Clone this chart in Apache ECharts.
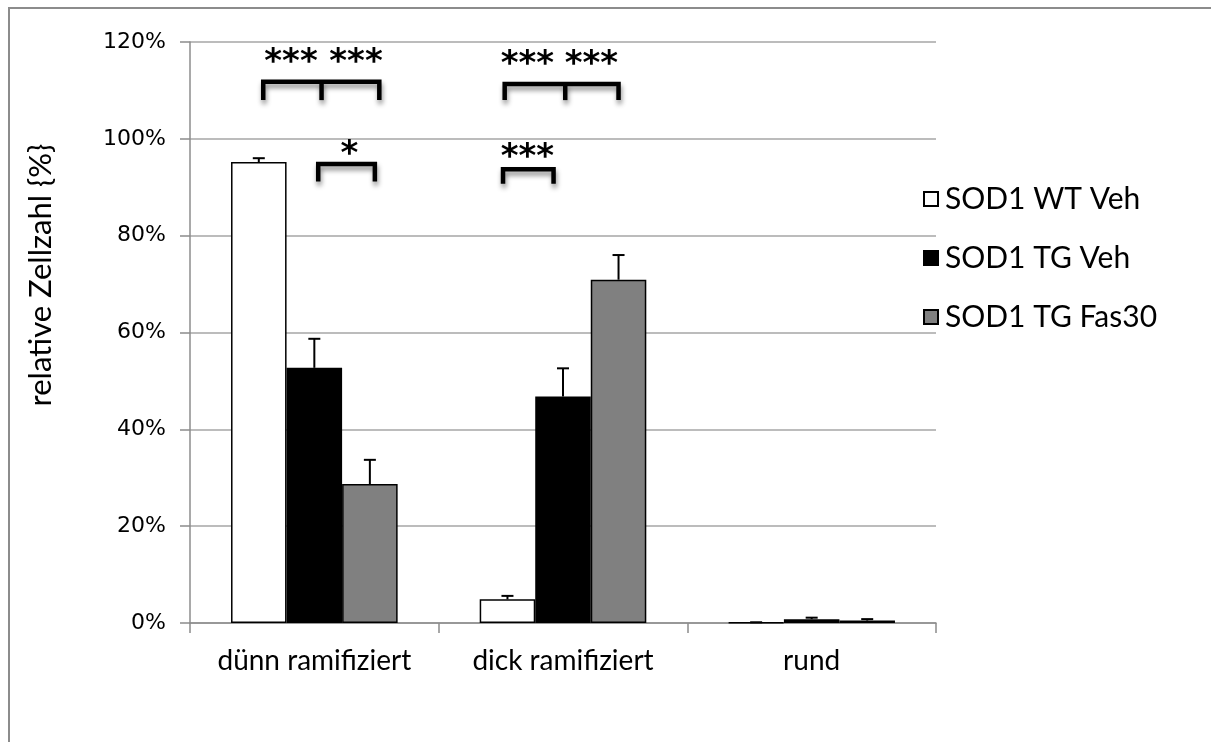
<!DOCTYPE html>
<html>
<head>
<meta charset="utf-8">
<script src="https://cdn.jsdelivr.net/npm/echarts@6/dist/echarts.min.js"></script>
<style>html,body{margin:0;padding:0;background:#fff;}#c{width:1211px;height:742px;}</style>
</head>
<body>
<div id="c"></div>
<script>
const categories = ['dünn ramifiziert', 'dick ramifiziert', 'rund'];
const seriesNames = ['SOD1 WT Veh', 'SOD1 TG Veh', 'SOD1 TG Fas30'];
const wtVeh = [95.2, 4.9, 0.1];
const tgVeh = [52.7, 46.8, 0.8];
const tgFas30 = [28.7, 70.9, 0.5];
const wtVehErr = [0.8, 0.7, 0.05];
const tgVehErr = [6.0, 5.8, 0.3];
const tgFas30Err = [5.0, 5.1, 0.3];
const yTicks = [0, 20, 40, 60, 80, 100, 120];
// brackets: [category index, top value, leg value, left bar offset, middle bar offset (or null), right bar offset]
const brackets = [
  [0, 111.8, 108.0, -0.92, 0.13, 1.17],
  [0, 94.8, 91.2, 0.07, null, 1.09],
  [1, 111.3, 108.0, -1.05, 0.04, 1.0],
  [1, 93.7, 90.7, -1.08, null, -0.17]
];
// star labels: [category index, bar offset, value, text]
const stars = [
  [0, -0.42, 115.6, '***'],
  [0, 0.75, 115.6, '***'],
  [0, 0.63, 96.6, '*'],
  [1, -0.64, 115.2, '***'],
  [1, 0.51, 115.2, '***'],
  [1, -0.64, 96.0, '***']
];

const colors = ['#ffffff', '#000000', '#808080'];
const values = [wtVeh, tgVeh, tgFas30];
const errs = [wtVehErr, tgVehErr, tgFas30Err];
const GAP = 0.33;
const FONT = 'Lato';

function barWidthOf(api) {
  const catW = api.size([1, 0])[0];
  return catW * (1 - GAP) / 3;
}

const series = [];
values.forEach((v, i) => {
  series.push({
    name: seriesNames[i],
    type: 'bar',
    data: v,
    barGap: '0%',
    barCategoryGap: (GAP * 100) + '%',
    itemStyle: { color: colors[i], borderColor: '#000', borderWidth: 1.5 },
    emphasis: { disabled: true },
    z: 2
  });
});
values.forEach((v, i) => {
  series.push({
    type: 'custom',
    name: 'err' + i,
    data: v.map((val, j) => [j, val, val + errs[i][j]]),
    z: 3,
    silent: true,
    renderItem: function (params, api) {
      const bw = barWidthOf(api);
      const p0 = api.coord([api.value(0), api.value(1)]);
      const p1 = api.coord([api.value(0), api.value(2)]);
      const x = p0[0] + (i - 1) * bw;
      const cap = 6;
      return {
        type: 'group',
        children: [
          { type: 'line', shape: { x1: x, y1: p0[1], x2: x, y2: p1[1] }, style: { stroke: '#000', lineWidth: 2 } },
          { type: 'line', shape: { x1: x - cap, y1: p1[1], x2: x + cap, y2: p1[1] }, style: { stroke: '#000', lineWidth: 2 } }
        ]
      };
    }
  });
});
series.push({
  type: 'custom',
  name: 'brackets',
  data: brackets.map(b => [b[0], b[1], b[2], b[3], b[4] === null ? NaN : b[4], b[5]]),
  z: 4,
  silent: true,
  renderItem: function (params, api) {
    const bw = barWidthOf(api);
    const top = api.coord([api.value(0), api.value(1)]);
    const leg = api.coord([api.value(0), api.value(2)]);
    const cx = top[0];
    const xl = cx + api.value(3) * bw;
    const xr = cx + api.value(5) * bw;
    const mid = api.value(4);
    const st = { stroke: '#000', lineWidth: 4.5, fill: null, shadowBlur: 5, shadowColor: 'rgba(0,0,0,0.45)', shadowOffsetX: 1, shadowOffsetY: 4 };
    const children = [
      { type: 'polyline', shape: { points: [[xl, leg[1]], [xl, top[1]], [xr, top[1]], [xr, leg[1]]] }, style: st }
    ];
    if (!isNaN(mid)) {
      const xm = cx + mid * bw;
      children.push({ type: 'line', shape: { x1: xm, y1: top[1], x2: xm, y2: leg[1] }, style: st });
    }
    return { type: 'group', children: children };
  }
});
series.push({
  type: 'custom',
  name: 'stars',
  data: stars.map(s => [s[0], s[1], s[2], s[3]]),
  z: 5,
  silent: true,
  renderItem: function (params, api) {
    const bw = barWidthOf(api);
    const p = api.coord([api.value(0), api.value(2)]);
    return {
      type: 'text',
      style: {
        x: p[0] + api.value(1) * bw,
        y: p[1],
        text: stars[params.dataIndex][3],
        fill: '#000',
        font: 'bold 34px "DejaVu Sans"',
        align: 'center',
        verticalAlign: 'middle'
      }
    };
  }
});

const chart = echarts.init(document.getElementById('c'), null, { renderer: 'canvas' });
chart.setOption({
  animation: false,
  backgroundColor: '#fff',
  grid: { left: 190, right: 275, top: 42, bottom: 119 },
  legend: {
    data: seriesNames,
    orient: 'vertical',
    left: 918,
    top: 179,
    itemWidth: 14,
    itemHeight: 14,
    itemGap: 29,
    icon: 'rect',
    selectedMode: false,
    textStyle: { fontFamily: FONT, fontSize: 30, color: '#000', padding: [0, 0, 0, 2] }
  },
  xAxis: {
    type: 'category',
    data: categories,
    axisLine: { lineStyle: { color: '#8c8c8c', width: 1.5 } },
    axisTick: { show: true, length: 10, interval: 0, lineStyle: { color: '#8c8c8c', width: 1.5 } },
    axisLabel: { fontFamily: FONT, fontSize: 28, color: '#000', margin: 24, interval: 0, hideOverlap: false },
    splitLine: { show: false }
  },
  yAxis: {
    type: 'value',
    min: 0,
    max: 120,
    interval: 20,
    axisLine: { show: true, lineStyle: { color: '#8c8c8c', width: 1.5 } },
    axisTick: { show: true, length: 10, lineStyle: { color: '#8c8c8c', width: 1.5 } },
    axisLabel: {
      fontFamily: '"DejaVu Sans"', fontSize: 22, color: '#000', margin: 24,
      formatter: function (v) { return yTicks.indexOf(v) >= 0 ? v + '%' : ''; }
    },
    splitLine: { lineStyle: { color: '#a6a6a6', width: 1.5 } }
  },
  graphic: [
    { type: 'rect', shape: { x: 9, y: 8, width: 1400, height: 900 }, style: { fill: null, stroke: '#8c8c8c', lineWidth: 2 }, silent: true, z: 0 },
    { type: 'text', x: 41, y: 275, rotation: Math.PI / 2, style: { text: 'relative Zellzahl {%}', font: '31px Lato', fill: '#000', align: 'center', verticalAlign: 'middle' }, silent: true }
  ],
  series: series
});
</script>
</body>
</html>
